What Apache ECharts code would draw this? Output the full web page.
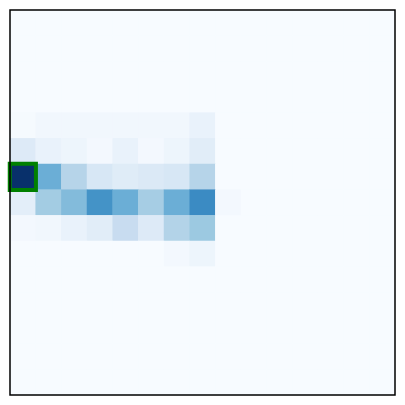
<!DOCTYPE html>
<html><head><meta charset="utf-8">
<script src="https://cdn.jsdelivr.net/npm/echarts@6/dist/echarts.min.js"></script>
<style>html,body{margin:0;padding:0;background:#fff}#c{width:405px;height:405px}</style>
</head><body><div id="c"></div>
<script>
const nCols = 15;
const nRows = 15;
const colLabels = Array.from({length: nCols}, (_, i) => String(i));
const rowLabels = Array.from({length: nRows}, (_, i) => String(i));
// values per row (0..1), columns 0..14
const row4 = [0.01, 0.03, 0.03, 0.03, 0.03, 0.03, 0.03, 0.07, 0, 0, 0, 0, 0, 0, 0];
const row5 = [0.13, 0.07, 0.05, 0.02, 0.07, 0.02, 0.05, 0.11, 0, 0, 0, 0, 0, 0, 0];
const row6 = [1.00, 0.50, 0.30, 0.16, 0.12, 0.14, 0.16, 0.30, 0, 0, 0, 0, 0, 0, 0];
const row7 = [0.10, 0.36, 0.44, 0.62, 0.50, 0.35, 0.50, 0.65, 0.02, 0, 0, 0, 0, 0, 0];
const row8 = [0.02, 0.03, 0.07, 0.11, 0.24, 0.13, 0.31, 0.38, 0, 0, 0, 0, 0, 0, 0];
const row9 = [0, 0, 0, 0, 0, 0, 0.02, 0.05, 0, 0, 0, 0, 0, 0, 0];
const emptyRow = new Array(nCols).fill(0);
const rows = [emptyRow, emptyRow, emptyRow, emptyRow, row4, row5, row6, row7, row8, row9,
              emptyRow, emptyRow, emptyRow, emptyRow, emptyRow];
const highlightCell = [0, 6]; // [col, row]

const data = [];
rows.forEach((r, y) => r.forEach((v, x) => data.push([x, y, v])));

const chart = echarts.init(document.getElementById('c'), null, {renderer: 'canvas'});
chart.setOption({
  animation: false,
  grid: {left: 10, top: 10, right: 10, bottom: 10, show: true, borderColor: '#000', borderWidth: 1.5, z: 10},
  xAxis: {type: 'category', data: colLabels, axisLine: {show: false}, axisTick: {show: false}, axisLabel: {show: false}, splitLine: {show: false}},
  yAxis: {type: 'category', data: rowLabels, inverse: true, axisLine: {show: false}, axisTick: {show: false}, axisLabel: {show: false}, splitLine: {show: false}},
  visualMap: {show: false, min: 0, max: 1, seriesIndex: 0, dimension: 2,
    inRange: {color: ['#f7fbff','#deebf7','#c6dbef','#9ecae1','#6baed6','#4292c6','#2171b5','#08519c','#08306b']}},
  series: [
    {type: 'heatmap', data: data, itemStyle: {borderWidth: 0}, emphasis: {disabled: true}},
    {type: 'heatmap', data: [[highlightCell[0], highlightCell[1], 1]], z: 5,
      itemStyle: {color: 'rgba(0,0,0,0)', borderColor: '#008000', borderWidth: 4}, emphasis: {disabled: true}}
  ]
});
</script></body></html>
